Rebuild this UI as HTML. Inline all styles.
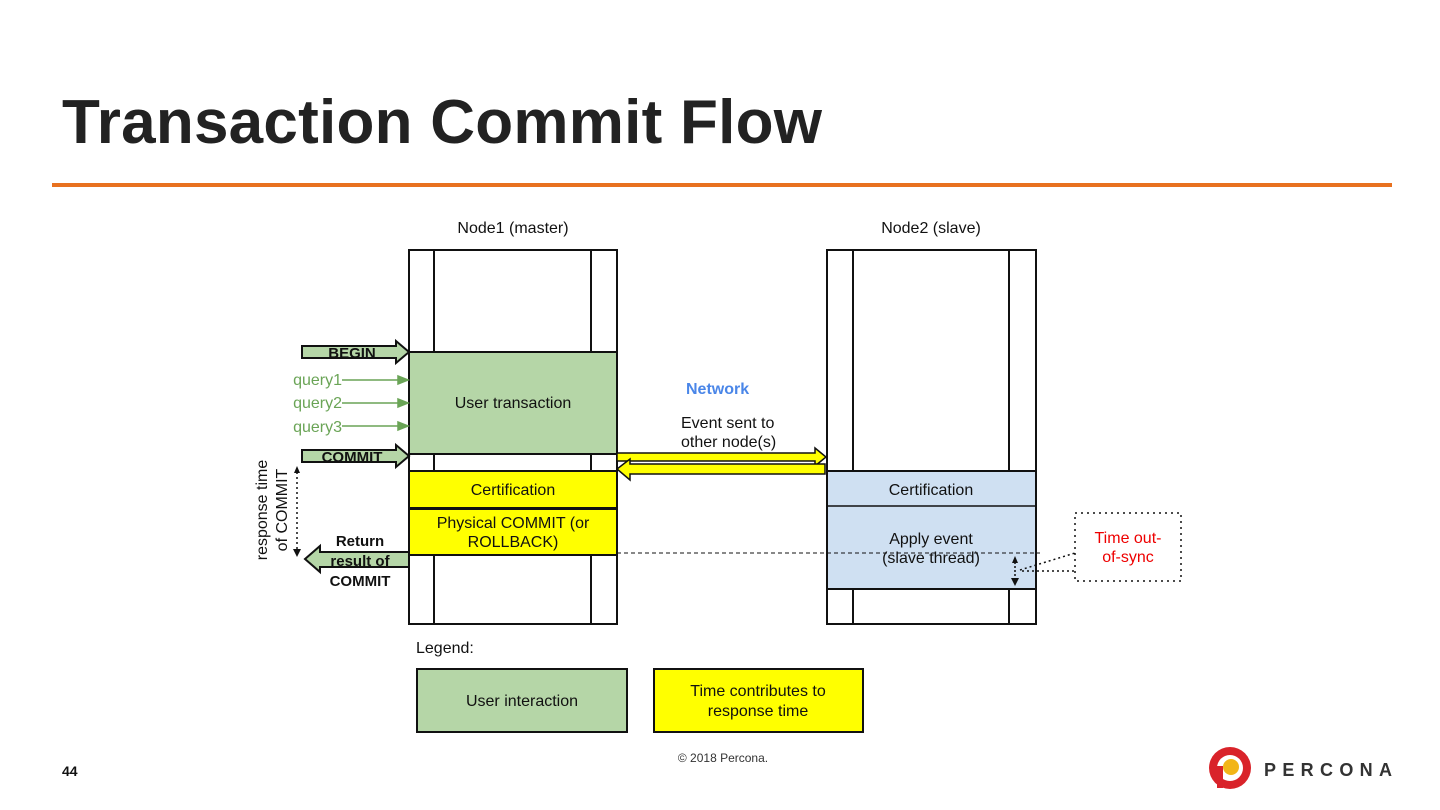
<!DOCTYPE html>
<html><head><meta charset="utf-8"><style>
body{margin:0;background:#fff;}
svg{display:block;font-family:"Liberation Sans",Arial,sans-serif;}
</style></head><body>
<svg width="1440" height="810" viewBox="0 0 1440 810" xmlns="http://www.w3.org/2000/svg">
<text x="62" y="143" font-size="62" font-weight="bold" fill="#222" textLength="760">Transaction Commit Flow</text>
<rect x="52" y="183" width="1340" height="4" fill="#e8711f"/>

<text x="513" y="233" font-size="16" text-anchor="middle" fill="#111">Node1 (master)</text>
<text x="931" y="233" font-size="16" text-anchor="middle" fill="#111">Node2 (slave)</text>

<g stroke="#111" stroke-width="2" fill="none">
<rect x="409" y="250" width="208" height="374"/>
<line x1="434" y1="250" x2="434" y2="624"/><line x1="591" y1="250" x2="591" y2="624"/>
<rect x="827" y="250" width="209" height="374"/>
<line x1="853" y1="250" x2="853" y2="624"/><line x1="1009" y1="250" x2="1009" y2="624"/>
</g>
<rect x="409" y="352" width="208" height="102" fill="#b5d6a7" stroke="#111" stroke-width="2"/>
<rect x="409" y="471" width="208" height="37" fill="#ffff00" stroke="#111" stroke-width="2"/>
<rect x="409" y="509" width="208" height="46" fill="#ffff00" stroke="#111" stroke-width="2"/>
<rect x="827" y="471" width="209" height="118" fill="#cfe0f2" stroke="#111" stroke-width="2"/>
<line x1="827" y1="506" x2="1036" y2="506" stroke="#111" stroke-width="1.5"/>

<g font-size="16" fill="#111" text-anchor="middle">
<text x="513" y="408">User transaction</text>
<text x="513" y="495">Certification</text>
<text x="513" y="528">Physical COMMIT (or</text>
<text x="513" y="547">ROLLBACK)</text>
<text x="931" y="495">Certification</text>
<text x="931" y="544">Apply event</text>
<text x="931" y="563">(slave thread)</text>
</g>

<g fill="#b5d6a7" stroke="#111" stroke-width="2">
<path d="M302 346 H396 V341 L409 352 L396 363 V358 H302 Z"/>
<path d="M302 450 H396 V445 L409 456 L396 467 V462 H302 Z"/>
<path d="M409 552 H320 V546 L305 559 L320 572 V567 H409 Z"/>
</g>
<g font-size="15" font-weight="bold" fill="#111" text-anchor="middle">
<text x="352" y="358">BEGIN</text>
<text x="352" y="462">COMMIT</text>
<text x="360" y="546">Return</text>
<text x="360" y="566">result of</text>
<text x="360" y="586">COMMIT</text>
</g>
<g font-size="16" fill="#6aa456" text-anchor="end">
<text x="342" y="385">query1</text>
<text x="342" y="408">query2</text>
<text x="342" y="432">query3</text>
</g>
<g stroke="#6aa456" stroke-width="1.5" fill="#6aa456">
<line x1="342" y1="380" x2="400" y2="380"/><path d="M408 380 L398 376 L398 384Z"/>
<line x1="342" y1="403" x2="400" y2="403"/><path d="M408 403 L398 399 L398 407Z"/>
<line x1="342" y1="426" x2="400" y2="426"/><path d="M408 426 L398 422 L398 430Z"/>
</g>
<text transform="translate(267,510) rotate(-90)" font-size="16" fill="#111" text-anchor="middle">response time</text>
<text transform="translate(287,510) rotate(-90)" font-size="16" fill="#111" text-anchor="middle">of COMMIT</text>
<line x1="297" y1="472" x2="297" y2="550" stroke="#111" stroke-width="1.5" stroke-dasharray="2,3"/>
<path d="M297 466 L294 473 L300 473Z M297 557 L293 549 L301 549Z" fill="#111"/>

<text x="686" y="394" font-size="16" font-weight="bold" fill="#4a86e8">Network</text>
<text x="681" y="428" font-size="16" fill="#111">Event sent to</text>
<text x="681" y="447" font-size="16" fill="#111">other node(s)</text>
<g fill="#ffff00" stroke="#111" stroke-width="1.5">
<path d="M617 453 H815 V448 L826 457 L815 466 V461 H617 Z"/>
<path d="M825 464 V474 H630 V480 L617 469 L630 459 V464 Z"/>
</g>

<line x1="617" y1="553" x2="1040" y2="553" stroke="#111" stroke-width="1" stroke-dasharray="4,3"/>
<line x1="1015" y1="562" x2="1015" y2="580" stroke="#111" stroke-width="1.5" stroke-dasharray="2,2"/>
<path d="M1015 556 L1012 563 L1018 563Z M1015 586 L1011 578 L1019 578Z" fill="#111"/>
<path d="M1020 570 L1075 553" stroke="#111" stroke-width="1.5" stroke-dasharray="2,3" fill="none"/>
<path d="M1022 571 L1075 571" stroke="#111" stroke-width="1.5" stroke-dasharray="2,3" fill="none"/>
<rect x="1075" y="513" width="106" height="68" fill="none" stroke="#111" stroke-width="1.5" stroke-dasharray="2,4"/>
<text x="1128" y="543" font-size="16" fill="#e00" text-anchor="middle">Time out-</text>
<text x="1128" y="562" font-size="16" fill="#e00" text-anchor="middle">of-sync</text>

<text x="416" y="653" font-size="16" fill="#111">Legend:</text>
<rect x="417" y="669" width="210" height="63" fill="#b5d6a7" stroke="#111" stroke-width="2"/>
<rect x="654" y="669" width="209" height="63" fill="#ffff00" stroke="#111" stroke-width="2"/>
<text x="522" y="706" font-size="16" fill="#111" text-anchor="middle">User interaction</text>
<text x="758" y="696" font-size="16" fill="#111" text-anchor="middle">Time contributes to</text>
<text x="758" y="716" font-size="16" fill="#111" text-anchor="middle">response time</text>

<text x="62" y="776" font-size="14" font-weight="bold" fill="#111">44</text>
<text x="723" y="762" font-size="12" fill="#333" text-anchor="middle">© 2018 Percona.</text>
<circle cx="1230" cy="768" r="21" fill="#d9232a"/>
<circle cx="1230" cy="768" r="13" fill="#fff"/>
<circle cx="1231" cy="767" r="8" fill="#f2b518"/>
<rect x="1217" y="766" width="6" height="22" fill="#d9232a"/>
<text x="1264" y="776" font-size="18" font-weight="bold" fill="#333" textLength="128" lengthAdjust="spacing">PERCONA</text>
</svg>
</body></html>
